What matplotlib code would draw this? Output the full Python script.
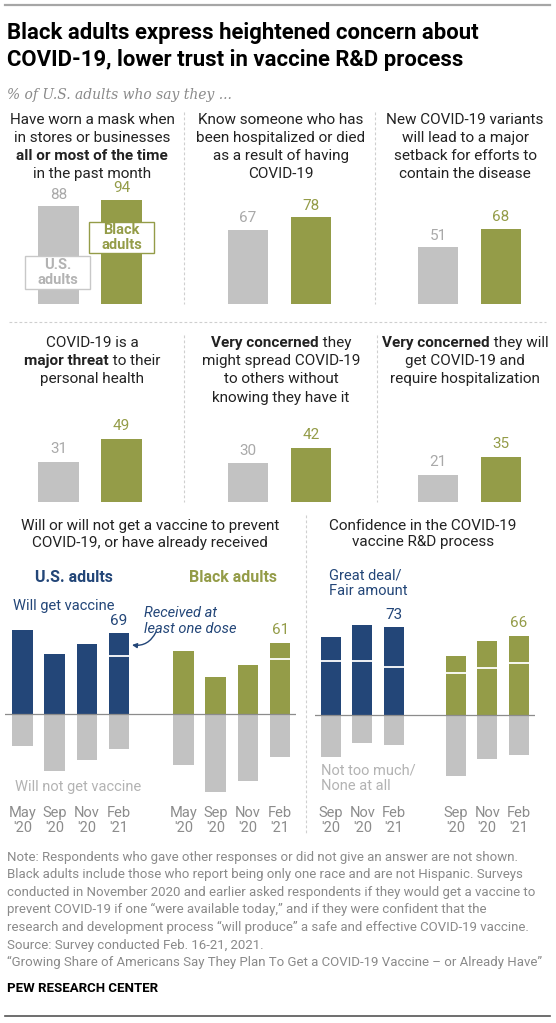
import matplotlib
matplotlib.use("Agg")
import matplotlib.pyplot as plt
from matplotlib.lines import Line2D
from matplotlib.patches import Rectangle
from matplotlib.transforms import Affine2D, blended_transform_factory

W, H = 556, 1023
plt.rcParams['font.family'] = ['Roboto', 'DejaVu Sans']

NAVY = '#234678'
GREEN = '#949c48'
GRAY_BAR = '#c2c2c2'
GRAY_NUM = '#a9a9a9'
GRAY_TXT = '#8c8c8c'
GRAY_LIGHT = '#b3b3b3'
DARK = '#222222'

# ---- data ----
# row 1 / row 2 panel questions, each line is a list of (text, bold)
row1_questions = [
    [[("Have worn a mask when", 0)], [("in stores or businesses", 0)],
     [("all or most of the time", 1)], [("in the past month", 0)]],
    [[("Know someone who has", 0)], [("been hospitalized or died", 0)],
     [("as a result of having", 0)], [("COVID-19", 0)]],
    [[("New COVID-19 variants", 0)], [("will lead to a major", 0)],
     [("setback for efforts to", 0)], [("contain the disease", 0)]],
]
row1_us = [88, 67, 51]
row1_black = [94, 78, 68]

row2_questions = [
    [[("COVID-19 is a", 0)], [("major threat", 1), (" to their", 0)],
     [("personal health", 0)]],
    [[("Very concerned", 1), (" they", 0)], [("might spread COVID-19", 0)],
     [("to others without", 0)], [("knowing they have it", 0)]],
    [[("Very concerned", 1), (" they will", 0)], [("get COVID-19 and", 0)],
     [("require hospitalization", 0)]],
]
row2_us = [31, 30, 21]
row2_black = [49, 42, 35]

vax_dates = ["May\n'20", "Sep\n'20", "Nov\n'20", "Feb\n'21"]
us_will = [72, 51, 60, 69]
us_wont = [27, 49, 39, 30]
black_will = [54, 32, 42, 61]
black_wont = [44, 67, 57, 37]
us_received = 19      # Feb '21 only
black_received = 14

conf_dates = ["Sep\n'20", "Nov\n'20", "Feb\n'21"]
us_conf = [65, 75, 73]
us_conf_fair = [45, 45, 40]
us_noconf = [35, 23, 25]
black_conf = [49, 62, 66]
black_conf_fair = [35, 39, 43]
black_noconf = [51, 37, 33]

notes = [
    "Note: Respondents who gave other responses or did not give an answer are not shown.",
    "Black adults include those who report being only one race and are not Hispanic. Surveys",
    "conducted in November 2020 and earlier asked respondents if they would get a vaccine to",
    "prevent COVID-19 if one \u201cwere available today,\u201d and if they were confident that the",
    "research and development process \u201cwill produce\u201d a safe and effective COVID-19 vaccine.",
    "Source: Survey conducted Feb. 16-21, 2021.",
    "\u201cGrowing Share of Americans Say They Plan To Get a COVID-19 Vaccine \u2013 or Already Have\u201d",
]

fig = plt.figure(figsize=(W / 100, H / 100), dpi=100)
fig.patch.set_facecolor('white')
# pixel coords, origin top-left
pxT = Affine2D().scale(1 / W, -1 / H).translate(0, 1) + fig.transFigure
renderer = fig.canvas.get_renderer()


def add_ax(left, top, width, height):
    ax = fig.add_axes([left / W, 1 - (top + height) / H, width / W, height / H])
    ax.axis('off')
    return ax


def line(x0, y0, x1, y1, **kw):
    fig.add_artist(Line2D([x0, x1], [y0, y1], transform=pxT, **kw))


def dashed_v(x, y0, y1):
    line(x, y0, x, y1, color='#cfcfcf', lw=0.8, ls=(0, (2.5, 2)))


def seg_line(xc, y, segs, size=11, color=DARK):
    texts = []
    for s, b in segs:
        t = fig.text(0, y, s, transform=pxT, fontsize=size, color=color,
                     fontweight='bold' if b else 'normal', va='center', ha='left')
        texts.append(t)
    widths = [t.get_window_extent(renderer).width for t in texts]
    x = xc - sum(widths) / 2
    for t, w in zip(texts, widths):
        t.set_position((x, y))
        x += w


def label(ax, x, v, color, size=11, off=4):
    ax.annotate(str(v), (x, v), xytext=(0, off), textcoords='offset points',
                ha='center', va='bottom', fontsize=size, color=color,
                annotation_clip=False)


# ---- header ----
line(5, 5, 550, 5, color='#a6a6a6', lw=1.6)
fig.text(7, 33, "Black adults express heightened concern about", transform=pxT,
         fontsize=15.9, fontweight='bold', color='black', va='center')
fig.text(7, 60, "COVID-19, lower trust in vaccine R&D process", transform=pxT,
         fontsize=15.9, fontweight='bold', color='black', va='center')
fig.text(7, 95, "% of U.S. adults who say they ...", transform=pxT,
         fontsize=10, style='italic', family='DejaVu Serif', color='#8a8a8a',
         va='center')

# ---- rows of paired bars ----
panel_centers = [92, 281, 465]
bar_first = [58.5, 248, 438]


def bar_row(questions, us, black, text_top, step, base, scale, off):
    for i in range(3):
        for k, segs in enumerate(questions[i]):
            seg_line(panel_centers[i], text_top + step * k, segs)
        ax = add_ax(bar_first[i] - 31.5, base - 100 * scale, 126, 100 * scale)
        ax.set_xlim(-0.5, 1.5)
        ax.set_ylim(0, 100)
        ax.bar([0, 1], [us[i], black[i]], width=0.635, color=[GRAY_BAR, GREEN])
        label(ax, 0, us[i], GRAY_NUM, off=off)
        label(ax, 1, black[i], GREEN, off=off)


bar_row(row1_questions, row1_us, row1_black, 120.5, 17.8, 304, 1.11, 3)
bar_row(row2_questions, row2_us, row2_black, 343, 18.2, 502, 1.29, 4)

for x in (184, 375):
    dashed_v(x, 112, 304)
for x in (184, 377):
    dashed_v(x, 335, 502)
line(9, 322, 546, 322, color='#cfcfcf', lw=0.8, ls=(0, (2.5, 2)))

# legend boxes in first panel
fig.add_artist(Rectangle((25, 256), 65, 33, transform=pxT, facecolor='white',
                         edgecolor='#c8c8c8', lw=1, zorder=5))
fig.text(57.5, 272.5, "U.S.\nadults", transform=pxT, ha='center', va='center',
         fontsize=10.5, fontweight='bold', color=GRAY_LIGHT, linespacing=1.15,
         zorder=6)
fig.add_artist(Rectangle((89, 222), 65, 31, transform=pxT, facecolor='white',
                         edgecolor=GREEN, lw=1, zorder=5))
fig.text(121.5, 237.5, "Black\nadults", transform=pxT, ha='center', va='center',
         fontsize=10.5, fontweight='bold', color=GREEN, linespacing=1.15,
         zorder=6)

# ---- vaccine intentions ----
fig.text(150, 534.5, "Will or will not get a vaccine to prevent\nCOVID-19, or have already received",
         transform=pxT, ha='center', va='center', fontsize=11, color=DARK,
         linespacing=1.2)
fig.text(74, 578, "U.S. adults", transform=pxT, ha='center', va='center',
         fontsize=11.5, fontweight='bold', color=NAVY)
fig.text(233, 578, "Black adults", transform=pxT, ha='center', va='center',
         fontsize=11.5, fontweight='bold', color=GREEN)

unit = 32.2
ax = add_ax(22.5 - 0.55 * unit, 714 - 75 * 1.17, 9.05 * unit, 147 * 1.17)
ax.set_xlim(-0.55, 8.5)
ax.set_ylim(-72, 75)
xu = [0, 1, 2, 3]
xb = [5, 6, 7, 8]
w = 0.64
ax.bar(xu, us_will, width=w, color=NAVY)
ax.bar(xu, [-v for v in us_wont], width=w, color=GRAY_BAR)
ax.bar(xb, black_will, width=w, color=GREEN)
ax.bar(xb, [-v for v in black_wont], width=w, color=GRAY_BAR)
ax.hlines(us_will[-1] - us_received, xu[-1] - w / 2, xu[-1] + w / 2, color='white', lw=1.3)
ax.hlines(black_will[-1] - black_received, xb[-1] - w / 2, xb[-1] + w / 2, color='white', lw=1.3)
ax.axhline(0, color='#8c8c8c', lw=0.9)
label(ax, xu[-1], us_will[-1], NAVY)
label(ax, xb[-1], black_will[-1], GREEN)
bt = blended_transform_factory(ax.transData, pxT)
for xs in (xu, xb):
    for x, d in zip(xs, vax_dates):
        ax.text(x, 820.5, d, transform=bt, ha='center', va='center', fontsize=10.5,
                color=GRAY_TXT, linespacing=1.05)
fig.text(13, 606, "Will get vaccine", transform=pxT, va='center', fontsize=10.5,
         color=NAVY)
fig.text(15, 787, "Will not get vaccine", transform=pxT, va='center', fontsize=10.5,
         color=GRAY_LIGHT)
fig.text(144, 621, "Received at\nleast one dose", transform=pxT, va='center',
         fontsize=10.5, style='italic', color=NAVY, linespacing=1.1)
ax.annotate('', xy=(132, 645), xytext=(156, 632), xycoords=pxT, textcoords=pxT,
            arrowprops=dict(arrowstyle='-|>', color=NAVY, lw=1, mutation_scale=7,
                            connectionstyle='arc3,rad=-0.35', shrinkA=0, shrinkB=0),
            annotation_clip=False)

dashed_v(306, 515, 835)

# ---- confidence in R&D ----
fig.text(423, 534, "Confidence in the COVID-19\nvaccine R&D process", transform=pxT,
         ha='center', va='center', fontsize=11, color=DARK, linespacing=1.2)

unit = 31.25
ax = add_ax(331 - 0.51 * unit, 715 - 80 * 1.2, 7.04 * unit, 135 * 1.2)
ax.set_xlim(-0.51, 6.53)
ax.set_ylim(-55, 80)
xu = [0, 1, 2]
xb = [4, 5, 6]
ax.bar(xu, us_conf, width=w, color=NAVY)
ax.bar(xu, [-v for v in us_noconf], width=w, color=GRAY_BAR)
ax.bar(xb, black_conf, width=w, color=GREEN)
ax.bar(xb, [-v for v in black_noconf], width=w, color=GRAY_BAR)
ax.hlines(us_conf_fair, [x - w / 2 for x in xu], [x + w / 2 for x in xu], color='white', lw=1.3)
ax.hlines(black_conf_fair, [x - w / 2 for x in xb], [x + w / 2 for x in xb], color='white', lw=1.3)
ax.axhline(0, color='#8c8c8c', lw=0.9)
label(ax, xu[-1], us_conf[-1], NAVY)
label(ax, xb[-1], black_conf[-1], GREEN)
bt = blended_transform_factory(ax.transData, pxT)
for xs in (xu, xb):
    for x, d in zip(xs, conf_dates):
        ax.text(x, 820.5, d, transform=bt, ha='center', va='center', fontsize=10.5,
                color=GRAY_TXT, linespacing=1.05)
fig.text(329, 583.5, "Great deal/\nFair amount", transform=pxT, va='center',
         fontsize=10.5, color=NAVY, linespacing=1.1)
fig.text(321, 778.5, "Not too much/\nNone at all", transform=pxT, va='center',
         fontsize=10.5, color=GRAY_LIGHT, linespacing=1.1)

# ---- notes ----
for k, t in enumerate(notes):
    fig.text(7, 857 + 17.6 * k, t, transform=pxT, va='center', fontsize=9.5,
             color='#8a8a8a')
fig.text(7, 988, "PEW RESEARCH CENTER", transform=pxT, va='center', fontsize=9.5,
         fontweight='bold', color='black')
line(5, 1016, 550, 1016, color='#555555', lw=1.2)

fig.savefig('out.png', dpi=100, facecolor='white')
